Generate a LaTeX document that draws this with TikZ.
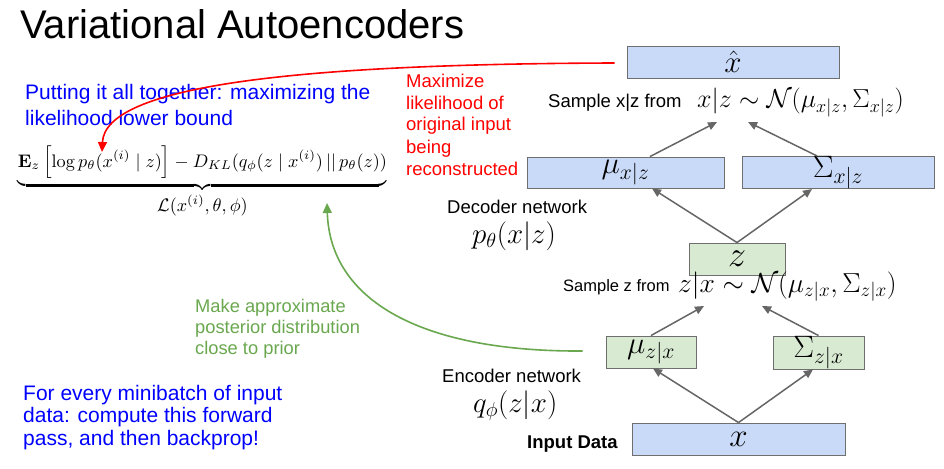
\RequirePackage{fix-cm}
\documentclass[tikz,border=0pt]{standalone}
\usepackage{graphicx}
\usepackage{amsmath}
\usepackage[no-math]{fontspec}
\setmainfont{Liberation Sans}
\usetikzlibrary{arrows.meta}
\definecolor{boxblue}{HTML}{C9DAF8}
\definecolor{boxgreen}{HTML}{D9EAD3}
\definecolor{boxgray}{HTML}{6F6F6F}
\definecolor{arrowgray}{HTML}{666666}
\definecolor{txtblue}{HTML}{0000FF}
\definecolor{txtred}{HTML}{FF0000}
\definecolor{txtgreen}{HTML}{6AA84F}
\tikzset{
  netbox/.style={draw=boxgray, line width=0.9pt, inner sep=0pt, font=\fontsize{31}{31}\selectfont},
  bluebox/.style={netbox, fill=boxblue},
  greenbox/.style={netbox, fill=boxgreen},
  lbl/.style={anchor=base west, inner sep=0pt, font=\fontsize{18.5}{22}\selectfont},
  mth/.style={anchor=base west, inner sep=0pt, font=\fontsize{26}{30}\selectfont},
  garrow/.style={draw=arrowgray, line width=1.5pt, -{Triangle[length=9pt,width=8pt]}},
  curvearrow/.style={line width=1.6pt, -{Triangle[length=10pt,width=9pt]}},
}
\begin{document}
\begin{tikzpicture}[x=1pt,y=-1pt]
\fill[white] (0,0) rectangle (944,468);
\useasboundingbox (0,0) rectangle (944,468);

% title
\node[anchor=base west, inner sep=0pt, font=\fontsize{40}{44}\selectfont] (title) at (20,39) {Variational Autoencoders};

% left texts (base anchor = baseline of the last line)
\node[anchor=base west, inner sep=0pt, align=left, text=txtblue, font=\fontsize{21}{26}\selectfont] (together) at (25,125)
  {Putting it all together: maximizing the\\likelihood lower bound};
\node[anchor=north, inner sep=0pt] (formula) at (202.5,146)
  {\resizebox{369pt}{!}{$\displaystyle\underbrace{\mathbf{E}_z\left[\log p_\theta(x^{(i)}\mid z)\right]-D_{KL}(q_\phi(z\mid x^{(i)})\,||\,p_\theta(z))}_{\textstyle\mathcal{L}(x^{(i)},\theta,\phi)}$}};
\node[anchor=base west, inner sep=0pt, align=left, text=txtred, font=\fontsize{18.5}{22}\selectfont] (maxlik) at (406,175)
  {Maximize\\likelihood of\\original input\\being\\reconstructed};
\node[anchor=base west, inner sep=0pt, align=left, text=txtgreen, font=\fontsize{18.3}{21}\selectfont] (approx) at (195,354)
  {Make approximate\\posterior distribution\\close to prior};
\node[anchor=base west, inner sep=0pt, align=left, text=txtblue, font=\fontsize{21}{22.5}\selectfont] (minibatch) at (23,445)
  {For every minibatch of input\\data: compute this forward\\pass, and then backprop!};

% network boxes
\node[bluebox, minimum width=212pt, minimum height=32pt] (xhat) at (733,62) {$\hat{x}$};
\node[bluebox, minimum width=197pt, minimum height=31pt] (muxz) at (625.5,172.5) {$\mu_{x|z}$};
\node[bluebox, minimum width=192pt, minimum height=31pt] (sigxz) at (838,172.5) {$\Sigma_{x|z}$};
\node[greenbox, minimum width=96pt, minimum height=32pt, font=\fontsize{36}{36}\selectfont] (z) at (737,259) {$z$};
\node[greenbox, minimum width=90pt, minimum height=32pt] (muzx) at (651,352) {$\mu_{z|x}$};
\node[greenbox, minimum width=91pt, minimum height=33pt] (sigzx) at (818.5,352.5) {$\Sigma_{z|x}$};
\node[bluebox, minimum width=213pt, minimum height=32pt, font=\fontsize{33}{33}\selectfont] (x) at (738.5,439) {$x$};

% labels
\node[lbl] (samplexz) at (548,108) {Sample x|z from};
\node[mth] (distxz) at (697,108) {$x|z\sim\mathcal{N}(\mu_{x|z},\Sigma_{x|z})$};
\node[lbl] (decoder) at (447,213) {Decoder network};
\node[mth, font=\fontsize{29}{32}\selectfont] (pdec) at (472,243) {$p_\theta(x|z)$};
\node[lbl, font=\fontsize{16.5}{20}\selectfont] (samplez) at (563,291) {Sample z from};
\node[mth, font=\fontsize{27.5}{31}\selectfont] (distzx) at (678,292) {$z|x\sim\mathcal{N}(\mu_{z|x},\Sigma_{z|x})$};
\node[lbl] (encoder) at (442,382) {Encoder network};
\node[mth, font=\fontsize{29}{32}\selectfont] (qenc) at (473,412) {$q_\phi(z|x)$};
\node[lbl, font=\fontsize{18.5}{22}\selectfont\bfseries] (input) at (527,448) {Input Data};

% arrow end points below the sampling formulas
\coordinate (sxl) at (717,122);
\coordinate (sxr) at (748,122);
\coordinate (szl) at (704,306);
\coordinate (szr) at (762,306);
\coordinate (redtip) at (102,152);
\coordinate (greentip) at (327,203);

% gray arrows
\draw[garrow] ([xshift=24.5pt]muxz.north) -- (sxl);
\draw[garrow] ([xshift=-21pt]sigxz.north) -- (sxr);
\draw[garrow] (z.north) -- ([xshift=26.5pt]muxz.south);
\draw[garrow] (z.north) -- ([xshift=-26pt]sigxz.south);
\draw[garrow] (muzx.north) -- (szl);
\draw[garrow] (sigzx.north) -- (szr);
\draw[garrow] (x.north) -- ([xshift=2pt]muzx.south);
\draw[garrow] (x.north) -- ([xshift=-5.5pt]sigzx.south);

% curved arrows
\draw[curvearrow, draw=txtred] ([xshift=-12pt,yshift=-1pt]xhat.west) .. controls (300,64) and (105,85) .. (redtip);
\draw[curvearrow, draw=txtgreen] ([xshift=-23pt,yshift=1pt]muzx.west) .. controls (420,352) and (330,300) .. (greentip);
\end{tikzpicture}
\end{document}
